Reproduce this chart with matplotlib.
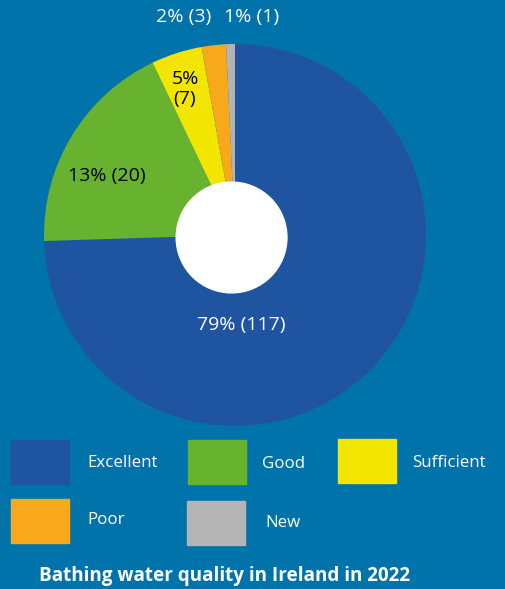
import matplotlib.pyplot as plt
from matplotlib.patches import Rectangle, Circle

# data
categories = ['Excellent', 'Good', 'Sufficient', 'Poor', 'New']
counts = [117, 20, 7, 3, 1]
pct_labels = ['79%', '13%', '5%', '2%', '1%']
# share of the circle each slice takes in the original drawing
shares = [74.5, 18.4, 4.3, 2.05, 0.75]
colors = ['#1f55a0', '#67b22f', '#f2e500', '#f7a81b', '#b4b4b4']
bg = '#0073ab'

plt.rcParams['font.family'] = ['Open Sans', 'DejaVu Sans']

W, H = 506, 589
fig = plt.figure(figsize=(W / 100, H / 100), dpi=100, facecolor=bg)

# pie axes: centre (235, 235) px, radius 191 px
cx, cy, r = 235, 235, 191
ax = fig.add_axes([(cx - r) / W, (H - cy - r) / H, 2 * r / W, 2 * r / H])
ax.set_facecolor(bg)
ax.pie(shares, colors=colors, startangle=90, counterclock=False, radius=1,
       wedgeprops=dict(linewidth=0))
ax.add_patch(Circle((-0.018, -0.013), 0.29, color='white', zorder=5))
ax.set_xlim(-1, 1)
ax.set_ylim(-1, 1)
ax.set_aspect('equal')
ax.axis('off')

# slice labels (pixel positions relative to the pie centre)
label_pos = [(241, 325), (107, 176), (185, 89), (184, 17), (252, 17)]
label_col = ['white', 'black', 'black', 'white', 'white']
for i in range(len(counts)):
    px, py = label_pos[i]
    sep = '\n' if categories[i] == 'Sufficient' else ' '
    ax.text((px - cx) / r, (cy - py) / r, pct_labels[i] + sep + '(%d)' % counts[i],
            ha='center', va='center', fontsize=14, color=label_col[i],
            linespacing=1.15, zorder=6, clip_on=False)

# legend boxes
box_xy = [(11, 440), (188, 440), (338, 439), (11, 499), (187, 501)]
text_xy = [(87, 463), (262, 464), (412, 463), (87, 520), (265, 523)]
for i, name in enumerate(categories):
    bx, by = box_xy[i]
    fig.patches.append(Rectangle((bx / W, 1 - (by + 44) / H), 58 / W, 44 / H,
                                 transform=fig.transFigure, color=colors[i]))
    tx, ty = text_xy[i]
    fig.text(tx / W, 1 - ty / H, name, ha='left', va='center',
             fontsize=12.2, color='white')

fig.text(39 / W, 1 - 576 / H, 'Bathing water quality in Ireland in 2022',
         ha='left', va='center', fontsize=13.6, fontweight='bold', color='white')

plt.savefig('out.png', dpi=100, facecolor=bg)
